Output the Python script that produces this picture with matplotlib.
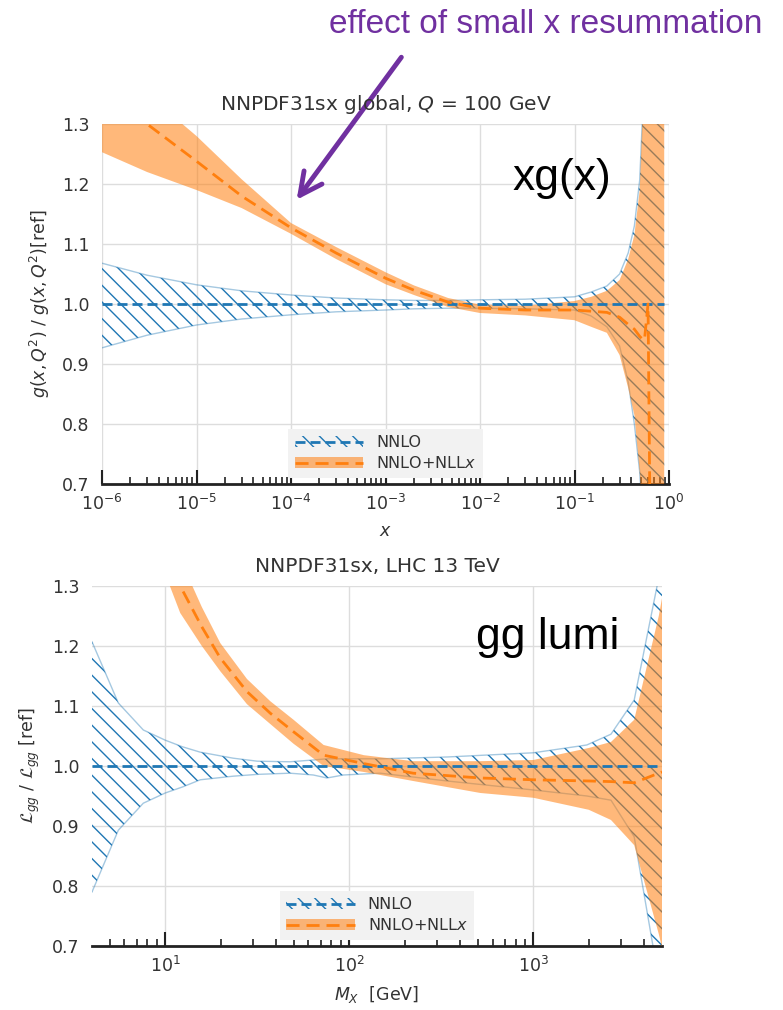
import matplotlib
matplotlib.use("Agg")
import matplotlib.pyplot as plt
import numpy as np
from matplotlib.patches import Patch
from matplotlib.lines import Line2D
from matplotlib.ticker import FixedLocator, NullFormatter, FormatStrFormatter, LogFormatterSciNotation

plt.rcParams['font.family'] = ['DejaVu Sans']
plt.rcParams['mathtext.fontset'] = 'dejavusans'
plt.rcParams['hatch.linewidth'] = 1.0
plt.rcParams['text.color'] = '#333333'
plt.rcParams['axes.labelcolor'] = '#333333'
plt.rcParams['xtick.color'] = '#222222'
plt.rcParams['xtick.labelcolor'] = '#333333'
plt.rcParams['ytick.labelcolor'] = '#333333'

BLUE = '#1f77b4'
ORANGE = '#ff7f0e'

# --- top panel: gluon PDF ratio, Q = 100 GeV ---
x_grid = [1e-6, 3e-6, 1e-5, 3e-5, 1e-4, 3e-4, 1e-3, 2e-3, 4.6e-3, 1e-2, 3e-2,
          0.1, 0.15, 0.22, 0.3, 0.37, 0.43, 0.49, 0.52, 0.55, 0.6, 0.66, 0.75, 0.89]
g_nnlo_up = [1.068, 1.048, 1.032, 1.022, 1.015, 1.010, 1.007, 1.006, 1.006, 1.007, 1.008,
             1.012, 1.02, 1.03, 1.05, 1.085, 1.13, 1.207, 1.3, 1.45, 1.8, 2.5, 3.0, 3.0]
g_nnlo_lo = [0.927, 0.948, 0.965, 0.975, 0.982, 0.987, 0.99, 0.992, 0.993, 0.993, 0.992,
             0.99, 0.98, 0.962, 0.93, 0.87, 0.80, 0.72, 0.65, 0.55, 0.3, -0.5, -1.0, -1.0]
g_nll_cv = [1.36, 1.30, 1.238, 1.18, 1.127, 1.085, 1.043, 1.023, 1.003, 0.993, 0.99,
            0.99, 0.988, 0.986, 0.978, 0.966, 0.958, 0.946, 0.942, 0.94, 1.0, 0.3, -0.5, -1.0]
g_nll_up = [1.44, 1.35, 1.28, 1.208, 1.135, 1.095, 1.053, 1.031, 1.01, 0.999, 0.997,
            1.005, 1.012, 1.022, 1.04, 1.075, 1.115, 1.19, 1.3, 1.5, 2.0, 3.0, 3.0, 3.0]
g_nll_lo = [1.253, 1.22, 1.19, 1.16, 1.117, 1.075, 1.033, 1.015, 0.995, 0.985, 0.981,
            0.973, 0.962, 0.952, 0.915, 0.86, 0.815, 0.72, 0.65, 0.5, 0.2, -0.5, -1.0, -1.0]

# --- bottom panel: gg luminosity ratio, LHC 13 TeV ---
m_nnlo = [4, 5.56, 7.6, 10, 12.4, 15.5, 23.4, 31.6, 47.6, 63.7, 75.6, 93, 147, 340,
          1000, 1950, 2640, 3530, 4700, 5000]
l_nnlo_up = [1.207, 1.105, 1.06, 1.043, 1.032, 1.023, 1.013, 1.008, 1.007, 1.01, 1.012,
             1.012, 1.012, 1.015, 1.022, 1.035, 1.053, 1.11, 1.3, 1.33]
l_nnlo_lo = [0.79, 0.893, 0.938, 0.955, 0.965, 0.977, 0.983, 0.986, 0.988, 0.985, 0.98,
             0.985, 0.988, 0.975, 0.96, 0.95, 0.943, 0.882, 0.66, 0.6]
m_nll = [4, 6, 8, 10, 12.06, 15.8, 19.9, 27.8, 37.2, 49.8, 72.5, 120, 222, 515,
         1000, 2000, 2640, 3530, 4800, 5000]
l_nll_cv = [2.3, 1.85, 1.58, 1.40, 1.30, 1.232, 1.18, 1.124, 1.088, 1.057, 1.018, 1.004,
            0.988, 0.98, 0.977, 0.975, 0.974, 0.972, 0.988, 0.99]
l_nll_up = [2.4, 1.93, 1.65, 1.46, 1.345, 1.265, 1.205, 1.145, 1.108, 1.077, 1.035, 1.018,
            1.008, 1.008, 1.01, 1.03, 1.04, 1.077, 1.25, 1.28]
l_nll_lo = [2.2, 1.77, 1.51, 1.32, 1.255, 1.20, 1.158, 1.103, 1.07, 1.037, 1.0, 0.99,
            0.975, 0.955, 0.947, 0.927, 0.91, 0.868, 0.72, 0.697]

y_ticks = [0.7, 0.8, 0.9, 1.0, 1.1, 1.2, 1.3]
x_ticks_top = [1e-6, 1e-5, 1e-4, 1e-3, 1e-2, 1e-1, 1e0]
x_ticks_bot = [1e1, 1e2, 1e3]


def log_minors(lo, hi):
    out = []
    for e in range(int(np.floor(np.log10(lo))), int(np.ceil(np.log10(hi))) + 1):
        for s in range(2, 10):
            v = s * 10.0 ** e
            if lo < v < hi:
                out.append(v)
    return out


def draw_panel(ax, xb, b_up, b_lo, xo, o_cv, o_up, o_lo, xlim, xticks, title, xlabel, ylabel):
    ax.set_xscale('log')
    # NNLO: hatched band + edges + central line at 1
    ax.fill_between(xb, b_lo, b_up, facecolor='none', edgecolor=BLUE,
                    hatch='\\\\', linewidth=0, zorder=2)
    ax.plot(xb, b_up, color=BLUE, alpha=0.4, lw=1, zorder=2)
    ax.plot(xb, b_lo, color=BLUE, alpha=0.4, lw=1, zorder=2)
    ax.plot(xb, np.ones(len(xb)), color=BLUE, lw=2, ls=(0, (3.6, 1.8)), zorder=4)
    # NNLO+NLLx: filled band + dashed central
    ax.fill_between(xo, o_lo, o_up, color=ORANGE, alpha=0.55, linewidth=0, zorder=3)
    ax.plot(xo, o_cv, color=ORANGE, lw=2, ls=(0, (4.7, 2.5)), zorder=5)

    ax.set_xlim(*xlim)
    ax.set_ylim(0.7, 1.3)
    ax.set_yticks(y_ticks)
    ax.yaxis.set_major_formatter(FormatStrFormatter('%.1f'))
    ax.xaxis.set_major_locator(FixedLocator(xticks))
    ax.xaxis.set_major_formatter(LogFormatterSciNotation())
    ax.xaxis.set_minor_locator(FixedLocator(log_minors(*xlim)))
    ax.xaxis.set_minor_formatter(NullFormatter())
    ax.tick_params(axis='x', which='major', direction='in', length=10, width=1.5,
                   labelsize=12.5, pad=7)
    ax.tick_params(axis='x', which='minor', direction='in', length=5, width=1.2)
    ax.tick_params(axis='y', length=0, labelsize=12.5, pad=9)
    for s in ['left', 'right', 'top']:
        ax.spines[s].set_visible(False)
    ax.spines['bottom'].set_color('#222222')
    ax.spines['bottom'].set_linewidth(2)
    ax.grid(True, which='major', color='#dddddd', lw=1)
    ax.set_axisbelow(True)
    ax.set_title(title, fontsize=14.5, pad=10, color='#333333')
    ax.set_xlabel(xlabel, fontsize=12.5, labelpad=6)
    ax.set_ylabel(ylabel, fontsize=12.5, labelpad=7)

    h_nnlo = (Patch(facecolor='none', edgecolor=BLUE, hatch='\\\\', linewidth=0),
              Line2D([], [], color=BLUE, lw=2, ls=(0, (3.6, 1.8))))
    h_nll = (Patch(facecolor=ORANGE, alpha=0.55, linewidth=0),
             Line2D([], [], color=ORANGE, lw=2, ls=(0, (4.7, 2.5))))
    leg = ax.legend([h_nnlo, h_nll], ['NNLO', r'NNLO+NLL$x$'], loc='lower center',
                    fontsize=11.5, handlelength=4.3, frameon=True, fancybox=False,
                    borderaxespad=0.4, labelspacing=0.3)
    leg.get_frame().set_facecolor('#f2f2f2')
    leg.get_frame().set_edgecolor('none')
    leg.get_frame().set_alpha(1)
    leg.set_zorder(10)


fig = plt.figure(figsize=(7.83, 10.10), dpi=100)
ax1 = fig.add_axes([0.1303, 0.5208, 0.7241, 0.3564])
ax2 = fig.add_axes([0.1175, 0.0634, 0.728, 0.3564])

draw_panel(ax1, x_grid, g_nnlo_up, g_nnlo_lo, x_grid, g_nll_cv, g_nll_up, g_nll_lo,
           (1e-6, 1), x_ticks_top, r'NNPDF31sx global, $Q$ = 100 GeV', r'$x$',
           r'$g(x, Q^2)$ / $g(x, Q^2)$[ref]')
draw_panel(ax2, m_nnlo, l_nnlo_up, l_nnlo_lo, m_nll, l_nll_cv, l_nll_up, l_nll_lo,
           (4, 5000), x_ticks_bot, 'NNPDF31sx, LHC 13 TeV', r'$M_X$  [GeV]',
           r'$\mathcal{L}_{gg}$ / $\mathcal{L}_{gg}$ [ref]')

# slide annotations
fig.text(546, 1010 - 33, 'effect of small x resummation', transform=None,
         fontsize=24, color='#7030A0', ha='center', va='baseline',
         family='Liberation Sans')
ax1.annotate('', xy=(295, 1010 - 202), xycoords='figure pixels',
             xytext=(403, 1010 - 55), textcoords='figure pixels',
             arrowprops=dict(arrowstyle='->', color='#7030A0', lw=3.5,
                             mutation_scale=40))
fig.text(562, 1010 - 190, 'xg(x)', transform=None, fontsize=32, color='black',
         ha='center', va='baseline', family='Liberation Sans')
fig.text(548, 1010 - 649, 'gg lumi', transform=None, fontsize=32, color='black',
         ha='center', va='baseline', family='Liberation Sans')

fig.savefig('out.png', dpi=100)
